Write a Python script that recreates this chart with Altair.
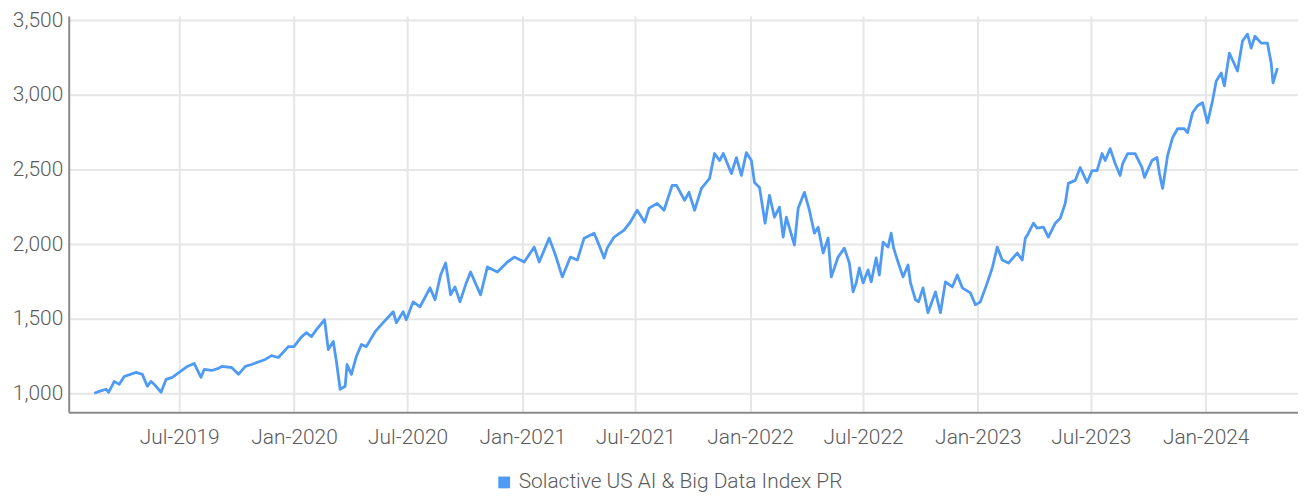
import altair as alt
import pandas as pd

SERIES = "Solactive US AI & Big Data Index PR"

dates = [
    "2019-02-15", "2019-02-23", "2019-03-06", "2019-03-10", "2019-03-19", "2019-03-27",
    "2019-04-04", "2019-04-23", "2019-05-03", "2019-05-11", "2019-05-17", "2019-05-25",
    "2019-06-02", "2019-06-10", "2019-06-20", "2019-07-01", "2019-07-14", "2019-07-25",
    "2019-08-05", "2019-08-10", "2019-08-22", "2019-09-02", "2019-09-07", "2019-09-23",
    "2019-10-04", "2019-10-15", "2019-10-25", "2019-11-16", "2019-11-26", "2019-12-07",
    "2019-12-23", "2020-01-01", "2020-01-12", "2020-01-21", "2020-01-29", "2020-02-06",
    "2020-02-19", "2020-02-25", "2020-03-04", "2020-03-09", "2020-03-15", "2020-03-23",
    "2020-03-26", "2020-04-02", "2020-04-10", "2020-04-18", "2020-04-26", "2020-05-10",
    "2020-05-20", "2020-06-08", "2020-06-13", "2020-06-24", "2020-06-29", "2020-07-10",
    "2020-07-21", "2020-08-06", "2020-08-14", "2020-08-23", "2020-08-31", "2020-09-08",
    "2020-09-15", "2020-09-23", "2020-10-02", "2020-10-10", "2020-10-26", "2020-11-06",
    "2020-11-22", "2020-12-08", "2020-12-19", "2021-01-04", "2021-01-20", "2021-01-28",
    "2021-02-13", "2021-02-23", "2021-03-06", "2021-03-19", "2021-03-30", "2021-04-10",
    "2021-04-26", "2021-05-04", "2021-05-12", "2021-05-17", "2021-05-28", "2021-06-13",
    "2021-06-23", "2021-07-04", "2021-07-16", "2021-07-23", "2021-08-05", "2021-08-16",
    "2021-08-29", "2021-09-05", "2021-09-18", "2021-09-25", "2021-10-04", "2021-10-15",
    "2021-10-28", "2021-11-05", "2021-11-13", "2021-11-19", "2021-12-02", "2021-12-10",
    "2021-12-18", "2021-12-26", "2022-01-03", "2022-01-08", "2022-01-16", "2022-01-25",
    "2022-02-01", "2022-02-09", "2022-02-17", "2022-02-23", "2022-02-28", "2022-03-13",
    "2022-03-19", "2022-03-29", "2022-04-06", "2022-04-14", "2022-04-20", "2022-04-28",
    "2022-05-06", "2022-05-11", "2022-05-22", "2022-06-01", "2022-06-09", "2022-06-15",
    "2022-06-20", "2022-06-25", "2022-07-01", "2022-07-09", "2022-07-14", "2022-07-22",
    "2022-07-27", "2022-08-02", "2022-08-10", "2022-08-15", "2022-08-19", "2022-08-26",
    "2022-09-03", "2022-09-11", "2022-09-15", "2022-09-23", "2022-09-28", "2022-10-05",
    "2022-10-13", "2022-10-25", "2022-11-02", "2022-11-10", "2022-11-21", "2022-11-29",
    "2022-12-07", "2022-12-20", "2022-12-28", "2023-01-05", "2023-01-16", "2023-01-24",
    "2023-02-01", "2023-02-09", "2023-02-19", "2023-03-05", "2023-03-13", "2023-03-18",
    "2023-03-23", "2023-03-31", "2023-04-06", "2023-04-16", "2023-04-24", "2023-05-05",
    "2023-05-13", "2023-05-21", "2023-05-26", "2023-06-06", "2023-06-14", "2023-06-25",
    "2023-07-03", "2023-07-11", "2023-07-19", "2023-07-24", "2023-08-01", "2023-08-09",
    "2023-08-17", "2023-08-21", "2023-08-29", "2023-09-10", "2023-09-21", "2023-09-25",
    "2023-10-07", "2023-10-15", "2023-10-19", "2023-10-24", "2023-11-01", "2023-11-09",
    "2023-11-17", "2023-11-28", "2023-12-03", "2023-12-11", "2023-12-19", "2023-12-27",
    "2024-01-04", "2024-01-12", "2024-01-18", "2024-01-26", "2024-01-31", "2024-02-08",
    "2024-02-16", "2024-02-21", "2024-02-29", "2024-03-08", "2024-03-14", "2024-03-20",
    "2024-03-30", "2024-04-09", "2024-04-15", "2024-04-18", "2024-04-25",
]

values = [
    1000, 1013, 1027, 1007, 1080, 1060,
    1113, 1140, 1127, 1047, 1080, 1047,
    1007, 1093, 1107, 1140, 1180, 1200,
    1107, 1160, 1153, 1167, 1180, 1173,
    1127, 1180, 1193, 1227, 1253, 1240,
    1313, 1313, 1373, 1407, 1380, 1427,
    1493, 1293, 1347, 1213, 1027, 1047,
    1193, 1127, 1247, 1327, 1313, 1413,
    1460, 1547, 1473, 1547, 1493, 1613,
    1580, 1707, 1627, 1793, 1873, 1660,
    1713, 1613, 1727, 1813, 1660, 1847,
    1813, 1880, 1913, 1880, 1980, 1880,
    2040, 1927, 1780, 1913, 1893, 2040,
    2073, 1993, 1907, 1973, 2047, 2093,
    2147, 2227, 2147, 2240, 2273, 2227,
    2393, 2393, 2293, 2347, 2227, 2373,
    2440, 2607, 2560, 2607, 2473, 2580,
    2460, 2613, 2560, 2413, 2380, 2140,
    2327, 2180, 2247, 2047, 2180, 1993,
    2240, 2347, 2227, 2073, 2113, 1940,
    2040, 1780, 1913, 1973, 1873, 1680,
    1740, 1840, 1740, 1827, 1747, 1907,
    1793, 2013, 1980, 2073, 1973, 1880,
    1780, 1860, 1740, 1627, 1613, 1707,
    1540, 1680, 1540, 1747, 1713, 1793,
    1707, 1673, 1593, 1613, 1740, 1840,
    1980, 1893, 1873, 1940, 1893, 2040,
    2073, 2140, 2107, 2113, 2047, 2140,
    2173, 2273, 2407, 2427, 2513, 2413,
    2493, 2493, 2607, 2560, 2640, 2540,
    2460, 2540, 2607, 2607, 2513, 2447,
    2560, 2580, 2473, 2373, 2593, 2713,
    2773, 2773, 2747, 2880, 2927, 2947,
    2813, 2960, 3093, 3147, 3060, 3280,
    3207, 3160, 3360, 3407, 3313, 3393,
    3347, 3347, 3213, 3080, 3180,
]

y_ticks = [1000, 1500, 2000, 2500, 3000, 3500]
x_tick_months = [(2019, 7), (2020, 1), (2020, 7), (2021, 1), (2021, 7),
                 (2022, 1), (2022, 7), (2023, 1), (2023, 7), (2024, 1)]

df = pd.DataFrame({"date": dates, "value": values, "series": SERIES})

FONT = "Roboto"
TXT = "#5a5a5a"

chart = (
    alt.Chart(df)
    .mark_line(strokeWidth=2.8, strokeJoin="round")
    .encode(
        x=alt.X(
            "date:T",
            title=None,
            scale=alt.Scale(domain=[alt.DateTime(year=2019, month=1, date=5),
                                    alt.DateTime(year=2024, month=5, date=28)]),
            axis=alt.Axis(
                values=[alt.DateTime(year=y, month=m, date=1) for y, m in x_tick_months],
                format="%b-%Y",
                ticks=False,
                labelPadding=14,
                labelFontSize=21,
                labelFont=FONT,
                labelFontWeight=300,
                labelColor=TXT,
                domainColor="#8a8a8a",
                domainWidth=2,
                gridColor="#e6e6e6",
                gridWidth=2,
            ),
        ),
        y=alt.Y(
            "value:Q",
            title=None,
            scale=alt.Scale(domain=[873, 3528], nice=False, zero=False),
            axis=alt.Axis(
                values=y_ticks,
                format=",.0f",
                ticks=False,
                labelPadding=6,
                labelFontSize=21,
                labelFont=FONT,
                labelFontWeight=300,
                labelColor=TXT,
                domainColor="#8a8a8a",
                domainWidth=2,
                gridColor="#e6e6e6",
                gridWidth=2,
            ),
        ),
        color=alt.Color(
            "series:N",
            scale=alt.Scale(range=["#4e9af5"]),
            legend=alt.Legend(
                title=None,
                orient="none",
                legendX=427,
                legendY=458,
                symbolType="square",
                symbolSize=140,
                symbolFillColor="#4e9af5",
                symbolStrokeWidth=0,
                labelFont=FONT,
                labelFontSize=21,
                labelFontWeight=300,
                labelColor=TXT,
                labelOffset=4,
                labelLimit=800,
                padding=0,
            ),
        ),
    )
    .properties(
        width=1235,
        height=398,
        autosize=alt.AutoSizeParams(type="none"),
        padding={"left": 61, "top": 7, "right": 0, "bottom": 85},
    )
    .configure_view(stroke=None)
)

chart.save("out.html", embed_options={"renderer": "svg", "actions": False})
